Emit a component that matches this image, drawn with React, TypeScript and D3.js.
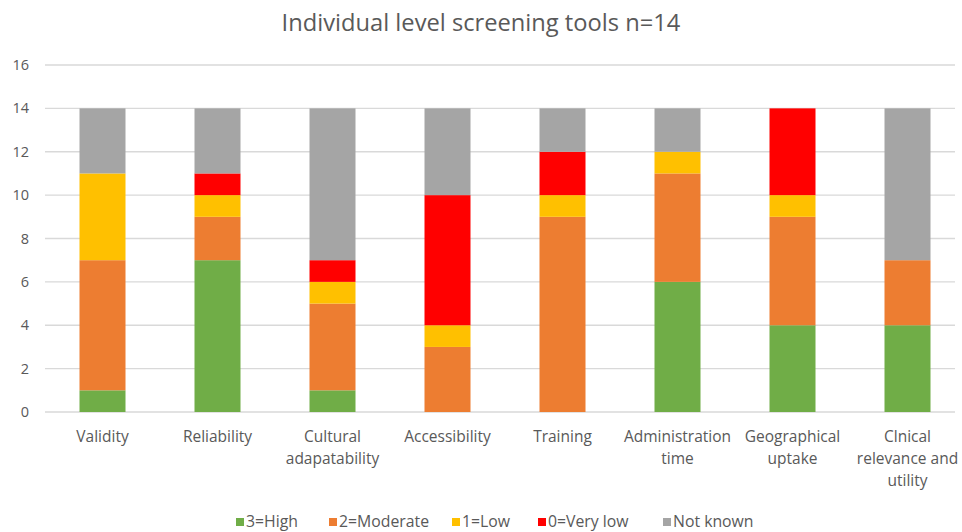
import React, { useEffect, useRef } from 'react';
import * as d3 from 'd3';

const categories = [
  'Validity',
  'Reliability',
  'Cultural\nadapatability',
  'Accessibility',
  'Training',
  'Administration\ntime',
  'Geographical\nuptake',
  'Clnical\nrelevance and\nutility',
];
const seriesNames = ['3=High', '2=Moderate', '1=Low', '0=Very low', 'Not known'];
const high = [1, 7, 1, 0, 0, 6, 4, 4];
const moderate = [6, 2, 4, 3, 9, 5, 5, 3];
const low = [4, 1, 1, 1, 1, 1, 1, 0];
const veryLow = [0, 1, 1, 6, 2, 0, 4, 0];
const notKnown = [3, 3, 7, 4, 2, 2, 0, 7];
const yTicks = [0, 2, 4, 6, 8, 10, 12, 14, 16];
const colors = ['#70AD47', '#ED7D31', '#FFC000', '#FF0000', '#A5A5A5'];

const App = () => {
  const ref = useRef<SVGSVGElement>(null);

  useEffect(() => {
    const width = 962;
    const height = 532;
    const margin = { left: 45, right: -3, top: 65, bottom: 120 };
    const font = '"Open Sans", Lato, sans-serif';

    const svg = d3.select(ref.current);
    svg.selectAll('*').remove();

    const rows = categories.map((c, i) => ({
      cat: c,
      '3=High': high[i],
      '2=Moderate': moderate[i],
      '1=Low': low[i],
      '0=Very low': veryLow[i],
      'Not known': notKnown[i],
    }));

    const x = d3.scaleBand()
      .domain(categories)
      .range([margin.left, width - margin.right])
      .paddingInner(0.6)
      .paddingOuter(0.3);

    const y = d3.scaleLinear()
      .domain([0, 16])
      .range([height - margin.bottom, margin.top]);

    const color = d3.scaleOrdinal<string, string>().domain(seriesNames).range(colors);

    svg.append('text')
      .attr('x', width / 2)
      .attr('y', 31)
      .attr('text-anchor', 'middle')
      .attr('font-family', font)
      .attr('font-size', 23.7)
      .attr('fill', '#595959')
      .text('Individual level screening tools n=14');

    // gridlines + y labels
    const grid = svg.append('g');
    yTicks.forEach(t => {
      grid.append('line')
        .attr('x1', 45)
        .attr('x2', 955)
        .attr('y1', y(t))
        .attr('y2', y(t))
        .attr('stroke', '#D9D9D9')
        .attr('stroke-width', 1.3);
      grid.append('text')
        .attr('x', 29)
        .attr('y', y(t))
        .attr('dy', '0.35em')
        .attr('text-anchor', 'end')
        .attr('font-family', font)
        .attr('font-size', 14.5)
        .attr('fill', '#595959')
        .text(t);
    });

    const stack = d3.stack<any>().keys(seriesNames);
    const layers = stack(rows);

    svg.append('g')
      .selectAll('g')
      .data(layers)
      .enter()
      .append('g')
      .attr('fill', d => color(d.key))
      .selectAll('rect')
      .data(d => d)
      .enter()
      .append('rect')
      .attr('x', d => x(d.data.cat)!)
      .attr('width', x.bandwidth())
      .attr('y', d => y(d[1]))
      .attr('height', d => y(d[0]) - y(d[1]));

    // category labels
    const lab = svg.append('g');
    categories.forEach(c => {
      const t = lab.append('text')
        .attr('x', x(c)! + x.bandwidth() / 2)
        .attr('y', 442)
        .attr('text-anchor', 'middle')
        .attr('font-family', font)
        .attr('font-size', 15.5)
        .attr('fill', '#595959');
      c.split('\n').forEach((line, i) => {
        t.append('tspan')
          .attr('x', x(c)! + x.bandwidth() / 2)
          .attr('dy', i === 0 ? 0 : 22)
          .text(line);
      });
    });

    // legend
    const legendX = [236, 329, 452, 538, 663];
    const legend = svg.append('g');
    seriesNames.forEach((s, i) => {
      legend.append('rect')
        .attr('x', legendX[i])
        .attr('y', 518)
        .attr('width', 8)
        .attr('height', 8)
        .attr('fill', color(s));
      legend.append('text')
        .attr('x', legendX[i] + 10)
        .attr('y', 527)
        .attr('font-family', font)
        .attr('font-size', 15.8)
        .attr('fill', '#595959')
        .text(s);
    });
  }, []);

  return (
    <div style={{ position: 'absolute', left: 0, top: 0 }}>
      <svg ref={ref} width={962} height={532} style={{ display: 'block', background: '#fff' }} />
    </div>
  );
};

export default App;
